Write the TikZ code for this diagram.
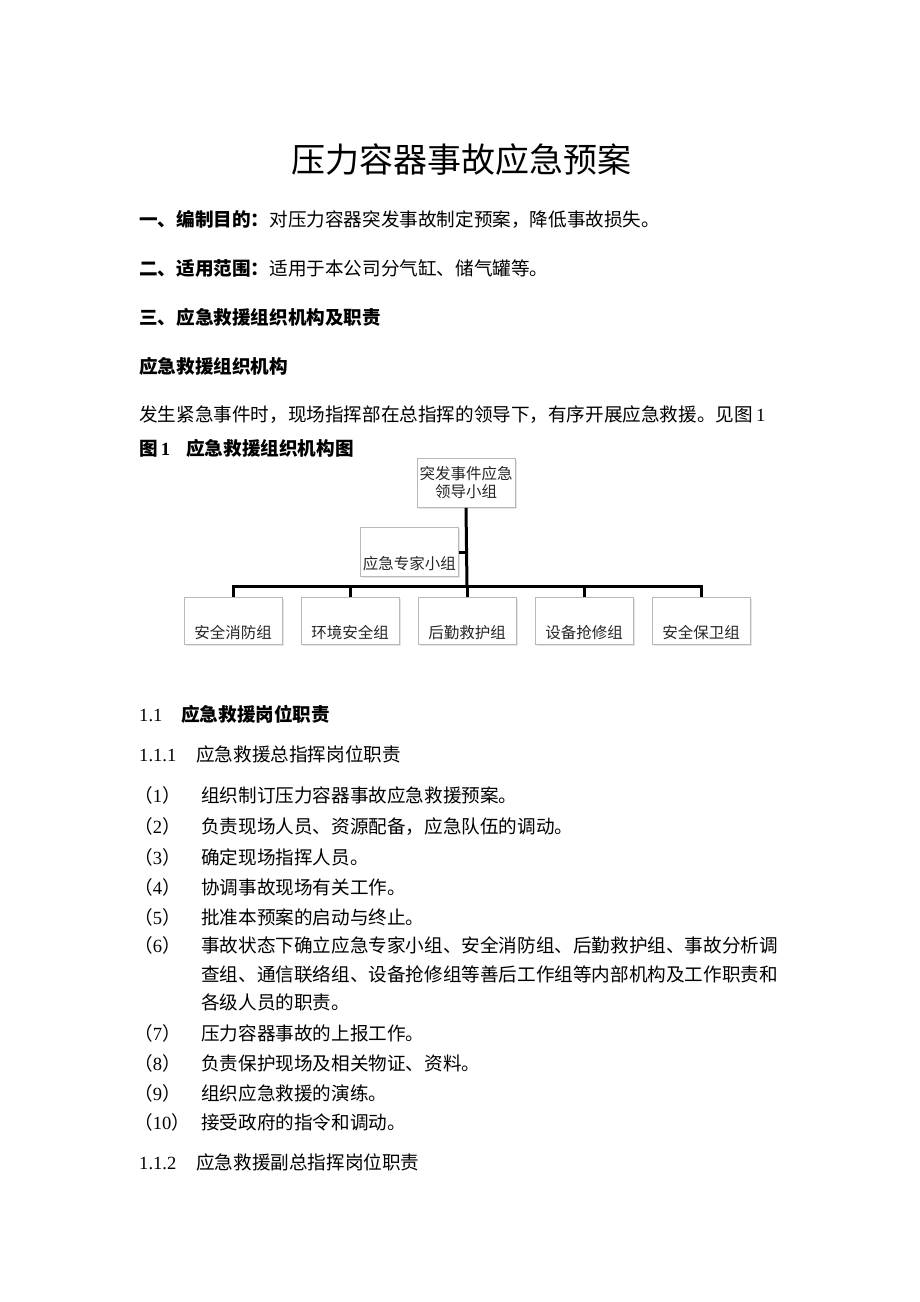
\documentclass[tikz,border=0pt]{standalone}
\usepackage{fontspec}
\setmainfont{Liberation Serif}
\newfontfamily\cjk{Noto Sans CJK SC}
\usetikzlibrary{shadows}
\begin{document}
\begin{tikzpicture}[x=1pt,y=-1pt,
  txt/.style={anchor=base west,inner sep=0pt,font=\fontsize{18.6}{22}\selectfont\cjk},
  num/.style={anchor=base west,inner sep=0pt,font=\fontsize{18.6}{22}\selectfont},
  orgbox/.style={draw=black!28,line width=0.8pt,fill=white,minimum width=98pt,
    drop shadow={shadow xshift=1.5pt,shadow yshift=-1.5pt,opacity=0.25,fill=black!40},
    font=\fontsize{15.5}{19}\selectfont\cjk,text=black!85,inner sep=0pt},
  bus/.style={line width=3pt,black}]
\useasboundingbox (0,0) rectangle (920,1302);
% title
\node[anchor=base,inner sep=0pt,font=\fontsize{34}{40}\selectfont\cjk] (title) at (461,172) {压力容器事故应急预案};
% sections
\node[txt] (s1) at (139,226) {\bfseries 一、编制目的：\mdseries 对压力容器突发事故制定预案，降低事故损失。};
\node[txt] (s2) at (139,275) {\bfseries 二、适用范围：\mdseries 适用于本公司分气缸、储气罐等。};
\node[txt] (s3) at (139,324) {\bfseries 三、应急救援组织机构及职责};
\node[txt] (s4) at (139,373) {\bfseries 应急救援组织机构};
\node[txt] (s5) at (139,421) {发生紧急事件时，现场指挥部在总指挥的领导下，有序开展应急救援。见图\,{\rmfamily 1}};
\node[txt] (s6) at (139,455) {\bfseries 图{\rmfamily\bfseries\,1}\hspace{16pt}应急救援组织机构图};
% org chart
\node[orgbox,minimum height=49pt,align=center] (lead) at (466,483) {突发事件应急\\[-1pt]领导小组};
\node[orgbox,minimum height=49pt,anchor=north west] (exp) at (360,527) {};
\node[anchor=base,inner sep=0pt,font=\fontsize{15.5}{19}\selectfont\cjk,text=black!85] (expt) at (exp.center|-0,569) {应急专家小组};
\coordinate (jexp) at (467,552);
\coordinate (jbus) at (467,586);
\foreach \i/\x/\t in {1/233/安全消防组,2/350/环境安全组,3/467/后勤救护组,4/584/设备抢修组,5/701/安全保卫组}{
  \node[orgbox,minimum height=47pt,anchor=north] (b\i) at (\x,597) {};
  \node[anchor=base,inner sep=0pt,font=\fontsize{15.5}{19}\selectfont\cjk,text=black!85] (bt\i) at (\x,638) {\t};
  \coordinate (d\i) at (\x,586);
}
\draw[bus] (lead.south) -- (jbus);
\draw[bus] (exp.east|-jexp) -- (jexp);
\draw[bus,line cap=rect] (d1) -- (d5);
\foreach \i in {1,...,5}{\draw[bus] (d\i) -- (b\i.north);}
% 1.1
\node[num] (h11n) at (139,721) {1.1};
\node[txt] (h11) at (181,721) {\bfseries 应急救援岗位职责};
\node[num] (h111n) at (139,761) {1.1.1};
\node[txt] (h111) at (196,761) {应急救援总指挥岗位职责};
% list
\foreach \n/\y/\t in {1/802/组织制订压力容器事故应急救援预案。,
  2/833/负责现场人员、资源配备，应急队伍的调动。,
  3/864/确定现场指挥人员。,
  4/894/协调事故现场有关工作。,
  5/924/批准本预案的启动与终止。,
  7/1040/压力容器事故的上报工作。,
  8/1070/负责保护现场及相关物证、资料。,
  9/1100/组织应急救援的演练。}{
  \node[txt] (l\n) at (134,\y) {（{\rmfamily\n}）};
  \node[txt] (t\n) at (201,\y) {\t};
}
\node[txt] (l6) at (134,952) {（{\rmfamily 6}）};
\node[txt] (t6a) at (201,952) {事故状态下确立应急专家小组、安全消防组、后勤救护组、事故分析调};
\node[txt] (t6b) at (201,981) {查组、通信联络组、设备抢修组等善后工作组等内部机构及工作职责和};
\node[txt] (t6c) at (201,1009) {各级人员的职责。};
\node[txt] (l10) at (134,1129) {（{\rmfamily 10}）};
\node[txt] (t10) at (201,1129) {接受政府的指令和调动。};
\node[num] (h112n) at (139,1169) {1.1.2};
\node[txt] (h112) at (196,1169) {应急救援副总指挥岗位职责};
\end{tikzpicture}
\end{document}
